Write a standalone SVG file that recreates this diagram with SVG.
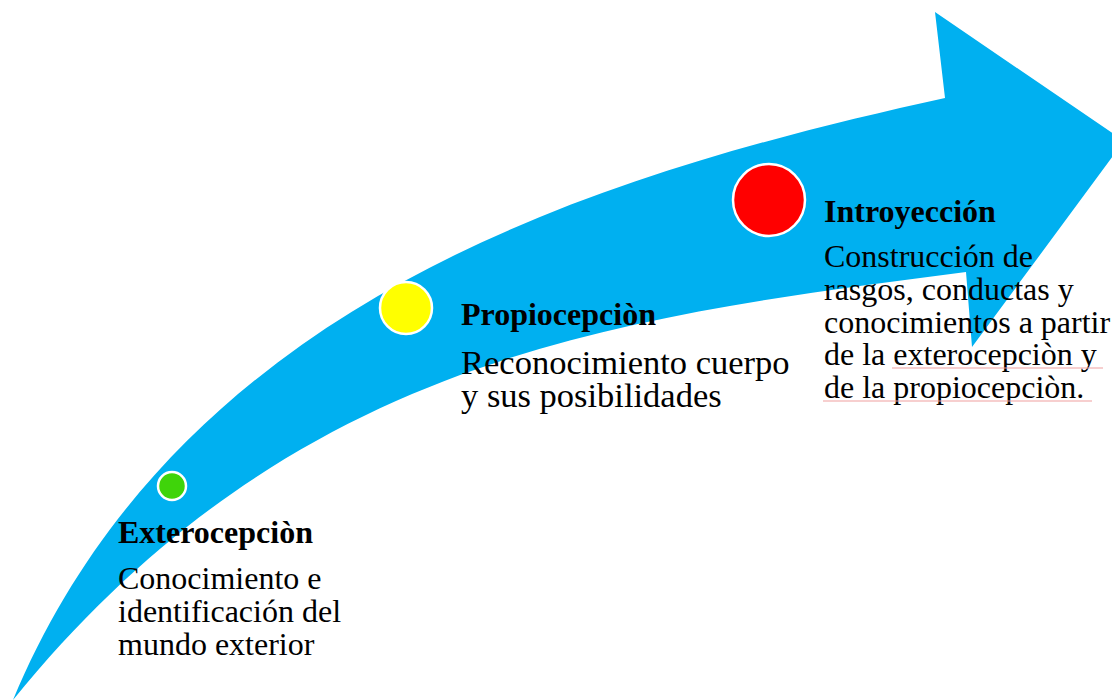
<svg xmlns="http://www.w3.org/2000/svg" width="1112" height="700" viewBox="0 0 1112 700">
<style>
.t{font-family:"Liberation Serif","Times New Roman",serif;font-size:32px;fill:#000}
.b{font-weight:bold}
.big{font-size:34.5px}
.dot{stroke:#fff;stroke-width:2.5}
.sq{stroke:#f0a0a0;stroke-width:1.2}
</style>
<rect width="1112" height="700" fill="#fff"/>
<g id="arrow">
<path d="M13,700 C180,300 595,175 945,98 L935,12 L1124,141 L972,347 L966,272 C616,317.5 293,355.6 13,700 Z" fill="#00B0F0"/>
</g>
<g id="node-exterocepcion">
<circle class="dot" cx="172" cy="486" r="14" fill="#3FD40A"/>
<text class="t b" x="118" y="543">Exterocepciòn</text>
<text class="t" x="118" y="589">Conocimiento e</text>
<text class="t" x="118" y="622">identificación del</text>
<text class="t" x="118" y="655">mundo exterior</text>
</g>
<g id="node-propiocepcion">
<circle class="dot" cx="406" cy="308" r="26" fill="#FFFF00"/>
<text class="t b" x="461" y="325">Propiocepciòn</text>
<text class="t big" x="461" y="374">Reconocimiento cuerpo</text>
<text class="t big" x="461" y="407">y sus posibilidades</text>
</g>
<g id="node-introyeccion">
<circle class="dot" cx="769" cy="200" r="36" fill="#FF0000"/>
<text class="t b" x="824" y="222">Introyección</text>
<text class="t" x="824" y="267">Construcción de</text>
<text class="t" x="824" y="300">rasgos, conductas y</text>
<text class="t" x="824" y="333">conocimientos a partir</text>
<text class="t" x="824" y="365">de la exterocepciòn y</text>
<text class="t" x="824" y="398">de la propiocepciòn.</text>
<line class="sq" x1="892" y1="368" x2="1103" y2="368"/>
<line class="sq" x1="823" y1="401" x2="1092" y2="401"/>
</g>
</svg>
